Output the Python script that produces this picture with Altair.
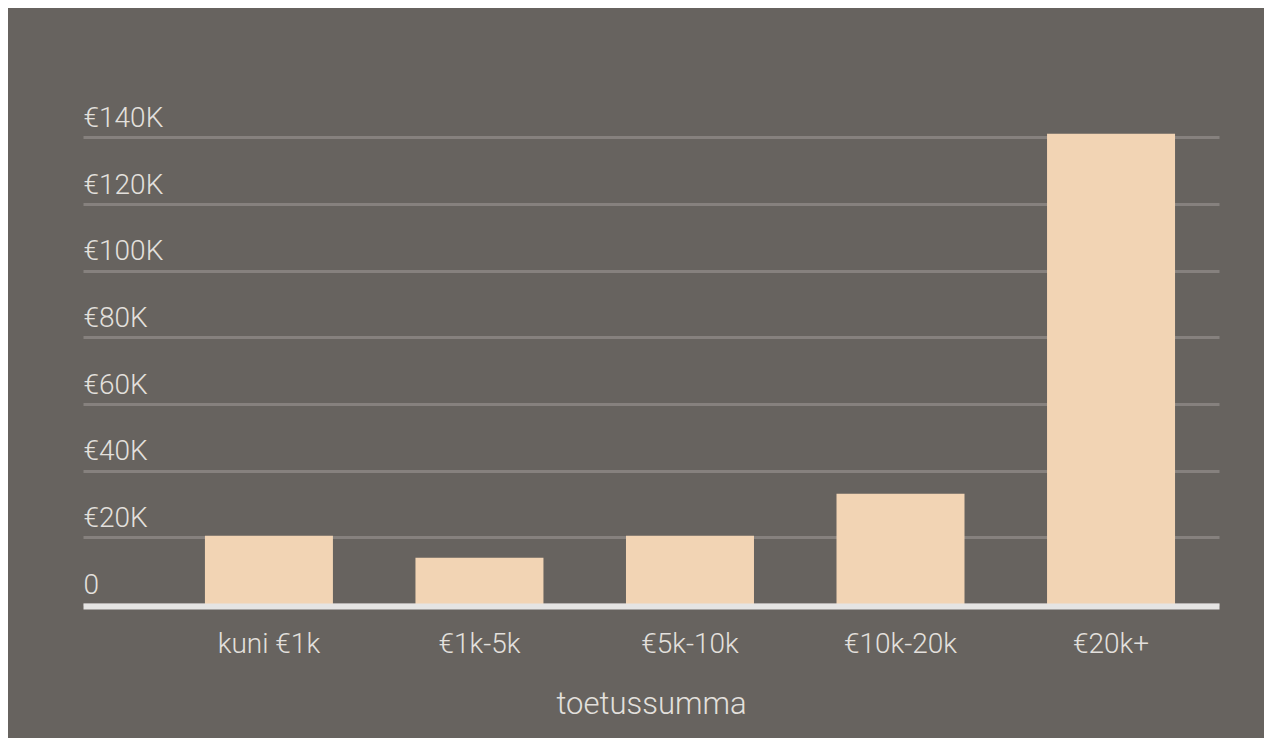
import altair as alt
import pandas as pd

categories = ["kuni €1k", "€1k-5k", "€5k-10k", "€10k-20k", "€20k+"]
values = [20500, 13900, 20500, 33100, 141100]
y_ticks = [0, 20000, 40000, 60000, 80000, 100000, 120000, 140000]

df = pd.DataFrame({"summa": categories, "value": values})

FONT = "Roboto"
TEXT = "#e3e0dd"
BG = "#67635f"

chart = alt.Chart(df).mark_bar(color="#f2d4b4").encode(
    x=alt.X(
        "summa:N",
        sort=categories,
        title="toetussumma",
        scale=alt.Scale(paddingInner=0.392, paddingOuter=0.394, align=0.735),
        axis=alt.Axis(
            labelAngle=0,
            ticks=False,
            domain=True,
            domainColor="#e5e4e3",
            domainWidth=6,
            offset=2,
            labelPadding=46,
            labelBaseline="alphabetic",
            labelFont=FONT,
            labelFontSize=28,
            labelFontWeight=300,
            labelColor=TEXT,
            titleFont=FONT,
            titleFontSize=31,
            titleFontWeight=300,
            titleColor=TEXT,
            titleBaseline="alphabetic",
            titleY=107,
            zindex=1,
        ),
    ),
    y=alt.Y(
        "value:Q",
        title=None,
        scale=alt.Scale(domain=[0, 150000], nice=False),
        axis=alt.Axis(
            values=y_ticks,
            labelExpr="datum.value == 0 ? '0' : '€' + (datum.value / 1000) + 'K'",
            domain=False,
            ticks=False,
            grid=True,
            gridColor="#86817e",
            gridWidth=3,
            labelAlign="left",
            labelBaseline="alphabetic",
            labelPadding=0,
            labelOffset=-11,
            labelFlush=False,
            labelOverlap=False,
            labelFont=FONT,
            labelFontSize=28,
            labelFontWeight=300,
            labelColor=TEXT,
        ),
    ),
).properties(
    width=1136,
    height=500,
    background=BG,
    autosize=alt.AutoSizeParams(type="none"),
    padding={"left": 75, "right": 45, "top": 96, "bottom": 134},
).configure_view(stroke=None)

chart.save("out.html", embed_options={"renderer": "svg", "actions": False})
